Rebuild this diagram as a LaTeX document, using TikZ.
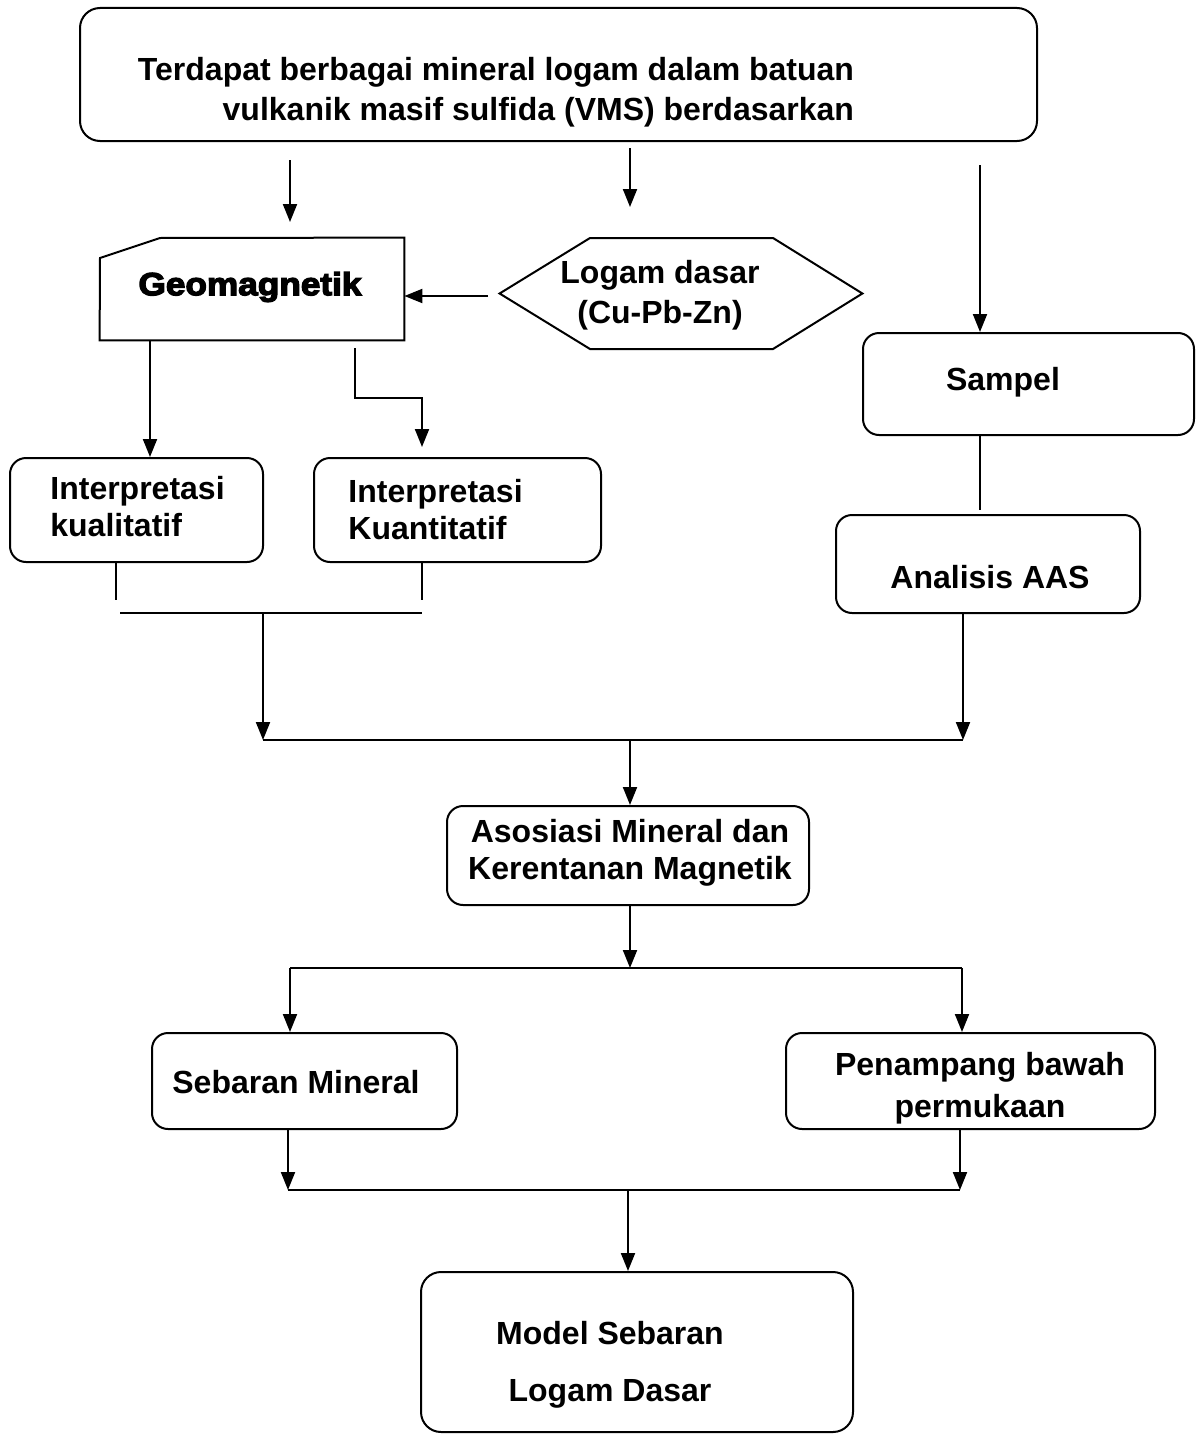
\documentclass[tikz,border=0pt]{standalone}
\usepackage{fontspec}
\setmainfont{Liberation Sans}
\newfontfamily\geof[FakeBold=4,FakeStretch=1.1]{Liberation Sans}
\usetikzlibrary{arrows.meta}
\tikzset{
  box/.style={draw,line width=1pt,rounded corners=8pt,inner sep=0pt},
  bigbox/.style={draw,line width=1pt,rounded corners=10pt,inner sep=0pt},
  txt/.style={font=\bfseries\fontsize{16}{18.5}\selectfont,inner sep=0pt,align=center},
  ln/.style={line width=1pt},
  arr/.style={line width=1pt,-{Triangle[width=7pt,length=9pt]}},
}
\begin{document}
\begin{tikzpicture}[x=0.5pt,y=-0.5pt]
\useasboundingbox (0,0) rectangle (1199,1434);
% top box
\node[bigbox,minimum width=478.5pt,minimum height=66.5pt] (top) at (558.5,74.5) {};
\node[txt,align=right,font=\bfseries\fontsize{16}{20}\selectfont] (toptext) at (496,92)
 {Terdapat berbagai mineral logam dalam batuan\\vulkanik masif sulfida (VMS) berdasarkan};
% geomagnetik
\node[minimum width=152pt,minimum height=51pt,inner sep=0pt] (geo) at (252,289) {};
\draw[ln] (geo.south west) -- (100,258) -- (160,238) -- (geo.north east) -- (geo.south east) -- cycle;
\node[inner sep=0pt,font=\geof\bfseries\fontsize{16}{16}\selectfont] (geotext) at (250,287) {Geomagnetik};
% hexagon
\node[minimum width=181pt,minimum height=55.5pt,inner sep=0pt] (hex) at (681,293.5) {};
\draw[ln] (hex.west) -- (590,238) -- (773,238) -- (hex.east) -- (773,349) -- (590,349) -- cycle;
\node[txt,font=\bfseries\fontsize{16}{20}\selectfont] (hextext) at (660,295) {Logam dasar\\(Cu-Pb-Zn)};
% sampel
\node[box,minimum width=165.5pt,minimum height=51pt] (sam) at (1028.5,384) {};
\node[txt] (samtext) at (1003,382) {Sampel};
% analisis
\node[box,minimum width=152pt,minimum height=49pt] (aas) at (988,564) {};
\node[txt] (aastext) at (990,577) {Analisis AAS};
% interpretasi
\node[box,minimum width=126.5pt,minimum height=52pt] (kual) at (136.5,510) {};
\node[txt,align=left,anchor=west] (kualtext) at (50,507) {Interpretasi\\kualitatif};
\node[box,minimum width=143.5pt,minimum height=52pt] (kuan) at (457.5,510) {};
\node[txt,align=left,anchor=west] (kuantext) at (348,510) {Interpretasi\\Kuantitatif};
% asosiasi
\node[box,minimum width=181pt,minimum height=49.5pt] (aso) at (628,855.5) {};
\node[txt] (asotext) at (630,853) {Asosiasi Mineral dan\\Kerentanan Magnetik};
% sebaran
\node[box,minimum width=152.5pt,minimum height=48pt] (seb) at (304.5,1081) {};
\node[txt] (sebtext) at (296,1082) {Sebaran Mineral};
% penampang
\node[box,minimum width=184.5pt,minimum height=48pt] (pen) at (970.5,1081) {};
\node[txt,font=\bfseries\fontsize{16}{21}\selectfont] (pentext) at (980,1088) {Penampang bawah\\permukaan};
% model
\node[bigbox,minimum width=216pt,minimum height=80pt] (mod) at (637,1352) {};
\node[txt,font=\bfseries\fontsize{16}{28.5}\selectfont] (modtext) at (610,1365) {Model Sebaran\\Logam Dasar};
% coordinates
\coordinate (j1) at (120,613);
\coordinate (j2) at (422,613);
\coordinate (j3) at (263,740);
\coordinate (j4) at (963,740);
\coordinate (j5) at (290,968);
\coordinate (j6) at (962,968);
\coordinate (j7) at (288,1190);
\coordinate (j8) at (960,1190);
% connectors
\draw[arr] (290,160) -- (290,222);
\draw[arr] (630,148) -- (630,207);
\draw[arr] (980,165) -- (sam.north -| 980,0);
\draw[arr] (488,296) -- (geo.east |- 0,296);
\draw[arr] (geo.south -| 150,0) -- (kual.north -| 150,0);
\draw[arr] (355,348) -- (355,398) -- (422,398) -- (422,447);
\draw[ln] (sam.south -| 980,0) -- (980,510);
\draw[ln] (kual.south -| 116,0) -- (116,600);
\draw[ln] (kuan.south -| 422,0) -- (422,600);
\draw[ln] (j1) -- (j2);
\draw[arr] (263,613) -- (j3);
\draw[arr] (aas.south -| 963,0) -- (j4);
\draw[ln] (j3) -- (j4);
\draw[arr] (630,740) -- (aso.north -| 630,0);
\draw[arr] (aso.south -| 630,0) -- (630,968);
\draw[ln] (j5) -- (j6);
\draw[arr] (j5) -- (seb.north -| 290,0);
\draw[arr] (j6) -- (pen.north -| 962,0);
\draw[arr] (seb.south -| 288,0) -- (j7);
\draw[arr] (pen.south -| 960,0) -- (j8);
\draw[ln] (j7) -- (j8);
\draw[arr] (628,1190) -- (mod.north -| 628,0);
\end{tikzpicture}
\end{document}
